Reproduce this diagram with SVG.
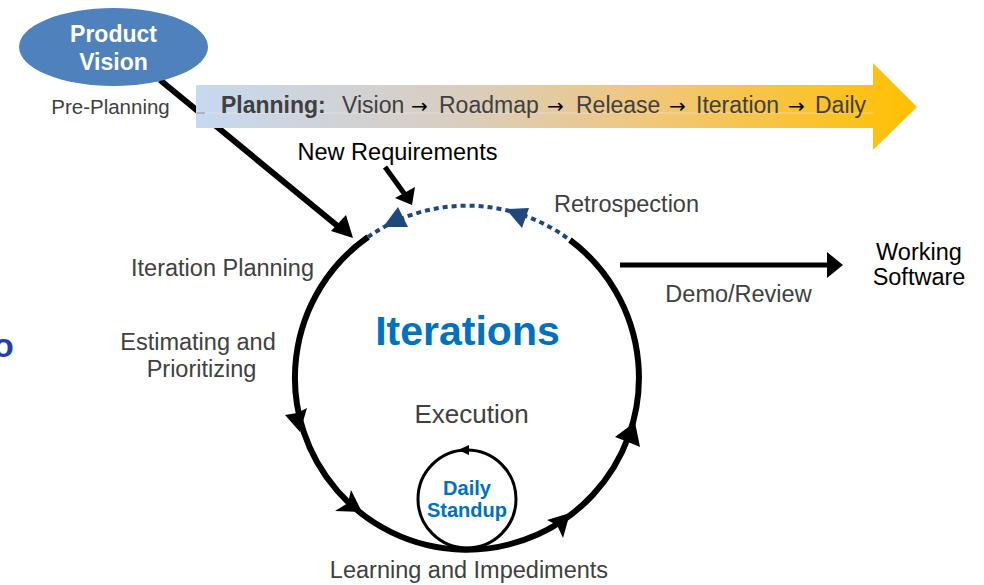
<svg xmlns="http://www.w3.org/2000/svg" width="984" height="585" viewBox="0 0 984 585">
<defs>
<linearGradient id="bannerGrad" x1="196" y1="0" x2="917" y2="0" gradientUnits="userSpaceOnUse">
<stop offset="0" stop-color="#c6d9f1"/>
<stop offset="0.38" stop-color="#dacdbd"/>
<stop offset="0.62" stop-color="#f0c77e"/>
<stop offset="1" stop-color="#ffc000"/>
</linearGradient>
</defs>
<style>
text{font-family:"Liberation Sans",Arial,sans-serif;}
.lbl{font-size:23.5px;fill:#404040;}
.blk{font-size:23.5px;fill:#000;}
.arr{font-family:"DejaVu Sans",sans-serif;font-size:20px;fill:#000;}
.head{fill:#000;}
.bhead{fill:#1f497d;}
</style>
<rect width="984" height="585" fill="#fff"/>

<!-- cut-off fragment at left edge -->
<text x="-7" y="357" style="font-size:34px;font-weight:bold;fill:#1f3fae;">o</text>

<g id="connectors">
<line x1="160" y1="80" x2="340" y2="228" stroke="#000" stroke-width="6"/>
<polygon class="head" points="353,238 331,231 346,215"/>
<line x1="385" y1="167" x2="406" y2="196" stroke="#000" stroke-width="5"/>
<polygon class="head" points="412,205 395,198 415,187"/>
<line x1="620" y1="265" x2="830" y2="265" stroke="#000" stroke-width="5"/>
<polygon class="head" points="843,265 827,252 827,278"/>
</g>

<g id="planning-banner">
<path d="M196,85 L873,85 L873,63 L917,107 L873,150 L873,128 L196,128 Z" fill="url(#bannerGrad)"/>
<line x1="196" y1="113" x2="873" y2="113" stroke="#ffffff" stroke-opacity="0.35" stroke-width="1"/>
<line x1="197" y1="113" x2="205" y2="113" stroke="#8c8c8c" stroke-width="1"/>
<text y="113" style="font-size:23px;fill:#404040;"><tspan x="221" font-weight="bold">Planning:</tspan><tspan x="342">Vision</tspan><tspan x="411" class="arr">→</tspan><tspan x="439">Roadmap</tspan><tspan x="547" class="arr">→</tspan><tspan x="576">Release</tspan><tspan x="669" class="arr">→</tspan><tspan x="696">Iteration</tspan><tspan x="788" class="arr">→</tspan><tspan x="815">Daily</tspan></text>
</g>

<g id="product-vision">
<ellipse cx="113.5" cy="47" rx="94.5" ry="39" fill="#4f81bd"/>
<text x="113.5" y="42" text-anchor="middle" style="font-size:23px;font-weight:bold;fill:#fff;">Product</text>
<text x="113.5" y="70" text-anchor="middle" style="font-size:23px;font-weight:bold;fill:#fff;">Vision</text>
<text x="110.5" y="114" text-anchor="middle" style="font-size:20.5px;fill:#404040;">Pre-Planning</text>
</g>

<g id="iterations-cycle">
<path d="M368,237 A172,172 0 1 0 570,240" fill="none" stroke="#000" stroke-width="6"/>
<path d="M368,237 A172,172 0 0 1 570,240" fill="none" stroke="#1f497d" stroke-width="4" stroke-dasharray="5 4"/>
<polygon class="bhead" points="398,207 383,227 408,227"/>
<polygon class="bhead" points="506,209 529,208 522,228"/>
<polygon class="head" points="300,432 285,415 297,413 307,408"/>
<polygon class="head" points="362,512 335,511 348,503 351,490"/>
<polygon class="head" points="570,513 547,520 557,525 563,538"/>
<polygon class="head" points="635,422 615,437 628,442 640,447"/>
<text x="467.5" y="345" text-anchor="middle" style="font-size:41px;font-weight:bold;fill:#0070c0;">Iterations</text>
<text x="471.5" y="423" text-anchor="middle" style="font-size:26px;fill:#404040;">Execution</text>
</g>

<g id="daily-standup">
<circle cx="467" cy="499" r="49" fill="none" stroke="#000" stroke-width="3"/>
<polygon class="head" points="458,450 469,445 469,455"/>
<text x="467" y="495" text-anchor="middle" style="font-size:20px;font-weight:bold;fill:#0070c0;">Daily</text>
<text x="467" y="517" text-anchor="middle" style="font-size:20px;font-weight:bold;fill:#0070c0;">Standup</text>
</g>

<g id="labels">
<text x="397.5" y="160" text-anchor="middle" class="blk">New Requirements</text>
<text x="626.5" y="212" text-anchor="middle" class="lbl">Retrospection</text>
<text x="222.5" y="276" text-anchor="middle" class="lbl">Iteration Planning</text>
<text x="198" y="350" text-anchor="middle" class="lbl">Estimating and</text>
<text x="201.5" y="377" text-anchor="middle" class="lbl">Prioritizing</text>
<text x="738.5" y="302" text-anchor="middle" class="lbl">Demo/Review</text>
<text x="469" y="578" text-anchor="middle" class="lbl">Learning and Impediments</text>
<text x="919" y="260" text-anchor="middle" class="blk">Working</text>
<text x="919" y="285" text-anchor="middle" class="blk">Software</text>
</g>
</svg>
